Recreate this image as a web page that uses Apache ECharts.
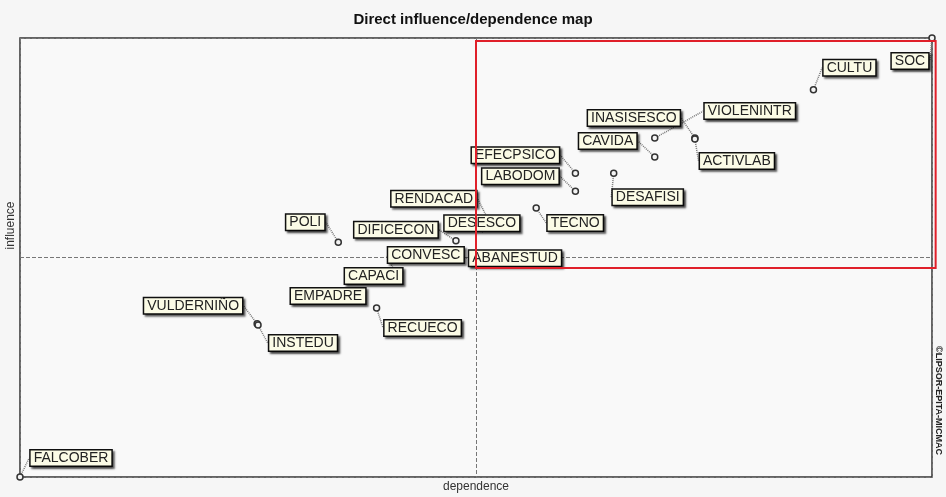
<!DOCTYPE html>
<html>
<head>
<meta charset="utf-8">
<script src="https://cdn.jsdelivr.net/npm/echarts@6/dist/echarts.min.js"></script>
<style>
  html, body { margin: 0; padding: 0; background: #f6f6f6; }
  #main { width: 946px; height: 497px; }
</style>
</head>
<body>
<div id="main"></div>
<script>
// variables of the MICMAC direct map
const names = ['SOC', 'CULTU', 'VIOLENINTR', 'INASISESCO', 'ACTIVLAB', 'CAVIDA',
  'EFECPSICO', 'LABODOM', 'DESAFISI', 'TECNO', 'DESESCO', 'RENDACAD', 'DIFICECON',
  'CONVESC', 'ABANESTUD', 'POLI', 'CAPACI', 'EMPADRE', 'RECUECO', 'VULDERNIÑO',
  'INSTEDU', 'FALCOBER'];
const dependence = [100, 87.0, 69.6, 74.0, 74.0, 69.6,
  60.9, 60.9, 65.1, 56.6, 52.4, 51.3, 47.8,
  41.1, 47.7, 34.9, 39.1, 34.0, 39.1, 26.0,
  26.1, 0];
const influence = [100, 88.2, 77.2, 77.2, 77.0, 72.9,
  69.2, 65.1, 69.2, 61.3, 57.6, 58.8, 53.8,
  46.7, 50.3, 53.5, 46.0, 41.0, 38.5, 34.9,
  34.6, 0];

// where each tag sits relative to its point (px)
const tagOffset = {
  SOC: [-22, 23], CULTU: [36, -22], VIOLENINTR: [95, -27], INASISESCO: [-61, -20],
  ACTIVLAB: [42, 22], CAVIDA: [-47, -16], EFECPSICO: [-60, -18], LABODOM: [-55, -15],
  DESAFISI: [34, 24], TECNO: [39, 15], DESESCO: [-16, -1], RENDACAD: [-54, -20],
  DIFICECON: [-60, -11], CONVESC: [31, -17], ABANESTUD: [60, 2], POLI: [-33, -20],
  CAPACI: [-3, 1], EMPADRE: [-2, -1], RECUECO: [46, 20], 'VULDERNIÑO': [-64, -18],
  INSTEDU: [45, 18], FALCOBER: [51, -19]
};

// highlighted quadrant (data units)
const boxDep = [50, 100.4];
const boxInf = [47.6, 99.3];

const points = names.map((n, i) => [dependence[i], influence[i], n]);

const chart = echarts.init(document.getElementById('main'));
chart.setOption({
  backgroundColor: '#f6f6f6',
  animation: false,
  title: {
    text: 'Direct influence/dependence map',
    left: 'center',
    top: 7,
    textStyle: { fontFamily: 'Liberation Sans', fontSize: 15, fontWeight: 'bold', color: '#111' }
  },
  grid: {
    left: 20, right: 14, top: 38, bottom: 20,
    outerBoundsMode: 'none',
    show: true, borderColor: '#333', borderWidth: 1.5, backgroundColor: '#f9f9f9'
  },
  xAxis: {
    type: 'value', min: 0, max: 100, interval: 50,
    name: 'dependence', nameLocation: 'middle', nameGap: 4,
    nameTextStyle: { fontFamily: 'Liberation Sans', fontSize: 12, color: '#333' },
    axisLine: { show: false }, axisTick: { show: false }, axisLabel: { show: false },
    splitLine: { lineStyle: { type: [4, 2], color: '#777', width: 1 } }
  },
  yAxis: {
    type: 'value', min: 0, max: 100, interval: 50,
    name: 'influence', nameLocation: 'middle', nameGap: 3,
    nameTextStyle: { fontFamily: 'Liberation Sans', fontSize: 12, color: '#333', padding: [0, 0, 0, 64] },
    axisLine: { show: false }, axisTick: { show: false }, axisLabel: { show: false },
    splitLine: { lineStyle: { type: [4, 2], color: '#777', width: 1 } }
  },
  series: [{
    type: 'scatter',
    data: points,
    symbol: 'circle',
    symbolSize: 6,
    clip: false,
    itemStyle: { color: '#f4f4f4', borderColor: '#333', borderWidth: 1.5, opacity: 1 },
    label: {
      show: true,
      position: 'inside',
      formatter: p => p.data[2],
      fontFamily: 'Liberation Sans',
      fontSize: 14,
      color: '#222',
      backgroundColor: '#fbfbe6',
      borderColor: '#111',
      borderWidth: 1.5,
      padding: [1, 3, 0, 3],
      shadowColor: 'rgba(0,0,0,0.55)',
      shadowOffsetX: 2,
      shadowOffsetY: 2,
      shadowBlur: 2
    },
    labelLine: {
      show: true,
      lineStyle: { type: [1, 1], color: '#777', width: 1.5 }
    },
    labelLayout: params => {
      const o = tagOffset[names[params.dataIndex]] || [0, 0];
      return { dx: o[0], dy: o[1] };
    }
  }]
});

// red box and copyright line, placed from data coordinates
const p0 = chart.convertToPixel({ gridIndex: 0 }, [boxDep[0], boxInf[1]]);
const p1 = chart.convertToPixel({ gridIndex: 0 }, [boxDep[1], boxInf[0]]);
chart.setOption({
  graphic: [
    {
      type: 'rect', z: 100,
      shape: { x: p0[0], y: p0[1], width: p1[0] - p0[0], height: p1[1] - p0[1] },
      style: { fill: null, stroke: '#e0202a', lineWidth: 2 }
    },
    {
      type: 'text', z: 100,
      x: 943, y: 346, rotation: -Math.PI / 2,
      style: { text: '©LIPSOR-EPITA-MICMAC', font: 'bold 9px "Liberation Sans"', fill: '#222' }
    }
  ]
});
</script>
</body>
</html>
